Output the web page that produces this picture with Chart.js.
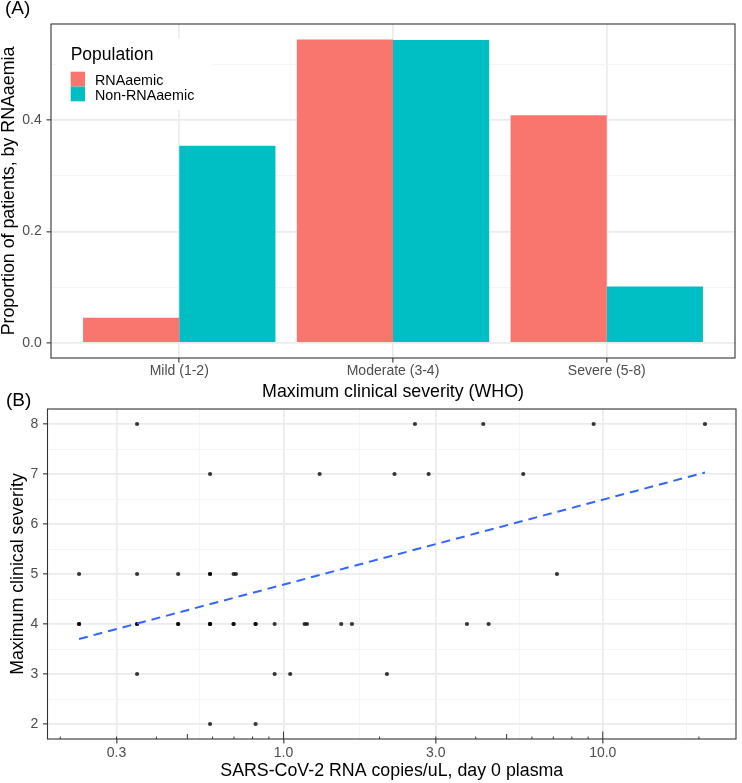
<!DOCTYPE html>
<html>
<head>
<meta charset="utf-8">
<script src="https://cdn.jsdelivr.net/npm/chart.js@4.4.1/dist/chart.umd.min.js"></script>
<style>
html,body{margin:0;padding:0;background:#fff;}
#wrap{position:relative;width:742px;height:783px;overflow:hidden;background:#fff;font-family:'Liberation Sans',Arial,sans-serif;}
#cA{position:absolute;left:0;top:0;}
#cB{position:absolute;left:0;top:400px;}
.tag{position:absolute;font-size:19px;line-height:19px;color:#000;white-space:nowrap;}
</style>
</head>
<body>
<div id="wrap">
<canvas id="cA" width="742" height="402"></canvas>
<canvas id="cB" width="742" height="383"></canvas>
<div class="tag" style="left:5px;top:-2px">(A)</div>
<div class="tag" style="left:6px;top:390px">(B)</div>
</div>
<script>
// ---------- Panel A data ----------
const categories = ['Mild (1-2)', 'Moderate (3-4)', 'Severe (5-8)'];
const seriesNames = ['RNAaemic', 'Non-RNAaemic'];
const legendTitle = 'Population';
const rnaaemic = [0.045, 0.545, 0.409];
const nonRnaaemic = [0.354, 0.544, 0.101];
const yTicksA = [0, 0.2, 0.4];
const yTickLabelsA = ['0.0', '0.2', '0.4'];
const yMinorA = [0.1, 0.3, 0.5];

// ---------- Panel B data ----------
const rnaCopies = [
  0.348, 2.581, 4.224, 9.364, 20.90,
  0.589, 1.298, 2.227, 2.849, 5.636,
  0.229, 0.348, 0.468, 0.589, 0.589, 0.698, 0.710, 7.188,
  0.229, 0.229, 0.348, 0.348, 0.468, 0.468, 0.589, 0.589, 0.589, 0.698, 0.698, 0.818, 0.818, 0.9385, 1.165, 1.185, 1.517, 1.639, 3.755, 4.391,
  0.348, 0.9385, 1.050, 2.109,
  0.589, 0.818
];
const severity = [
  8, 8, 8, 8, 8,
  7, 7, 7, 7, 7,
  5, 5, 5, 5, 5, 5, 5, 5,
  4, 4, 4, 4, 4, 4, 4, 4, 4, 4, 4, 4, 4, 4, 4, 4, 4, 4, 4, 4,
  3, 3, 3, 3,
  2, 2
];
const fitX = [0.229, 20.90];
const fitY = [3.70, 7.03];
const xTicksB = [0.3, 1, 3, 10];
const xTickLabelsB = ['0.3', '1.0', '3.0', '10.0'];
const xMinorB = [0.5477, 1.732, 5.477, 18.26];
const yTicksB = [2, 3, 4, 5, 6, 7, 8];
const yTickLabelsB = ['2', '3', '4', '5', '6', '7', '8'];
const yMinorB = [2.5, 3.5, 4.5, 5.5, 6.5, 7.5];
const logTicksShort = [0.2, 0.3, 0.4, 0.6, 0.7, 0.8, 0.9, 2, 3, 4, 6, 7, 8, 9, 20];
const logTicksMid = [0.5, 5];
const logTicksLong = [1, 10];

// ---------- styling ----------
const FONT = "'Liberation Sans', Arial, sans-serif";
const GRID_MAJOR = '#EBEBEB';
const GRID_MINOR = '#F2F2F2';
const TICK = '#333333';
const TICK_LABEL = '#4D4D4D';

function idxIn(arr, v) { return arr.findIndex(a => Math.abs(a - v) < 1e-6); }
function gridColor(majors) { return c => (c.tick && idxIn(majors, c.tick.value) >= 0) ? GRID_MAJOR : GRID_MINOR; }
function gridWidth(majors) { return c => (c.tick && idxIn(majors, c.tick.value) >= 0) ? 1.7 : 0.8; }
function tickColor(majors) { return c => (c.tick && idxIn(majors, c.tick.value) >= 0) ? TICK : 'rgba(0,0,0,0)'; }
function labelFor(majors, labels) { return v => { const i = idxIn(majors, v); return i >= 0 ? labels[i] : ''; }; }

const panelBorder = {
  id: 'panelBorder',
  afterDatasetsDraw(chart) {
    const { ctx, chartArea: a } = chart;
    ctx.save();
    ctx.strokeStyle = '#333333';
    ctx.lineWidth = 1.1;
    ctx.strokeRect(a.left, a.top, a.right - a.left, a.bottom - a.top);
    ctx.restore();
  }
};

const panelLegend = {
  id: 'panelLegend',
  beforeDatasetsDraw(chart) {
    const { ctx, chartArea: a } = chart;
    const x0 = a.left, y0 = a.top;
    ctx.save();
    ctx.fillStyle = '#ffffff';
    ctx.fillRect(x0 + 5, y0 + 14, 157, 72);
    ctx.textBaseline = 'alphabetic';
    ctx.textAlign = 'left';
    ctx.fillStyle = '#000000';
    ctx.font = '17.5px ' + FONT;
    ctx.fillText(legendTitle, x0 + 19.7, y0 + 36);
    chart.data.datasets.forEach((ds, i) => {
      ctx.fillStyle = ds.backgroundColor;
      ctx.fillRect(x0 + 19.7, y0 + 47.7 + i * 14.8, 14.3, 14.8);
      ctx.fillStyle = '#000000';
      ctx.font = '14.3px ' + FONT;
      ctx.fillText(ds.label, x0 + 44, y0 + 61 + i * 15);
    });
    ctx.restore();
  }
};

const logTicksPlugin = {
  id: 'logTicks',
  afterDatasetsDraw(chart) {
    const { ctx, chartArea: a } = chart;
    const xs = chart.scales.x;
    ctx.save();
    ctx.strokeStyle = '#333333';
    ctx.lineWidth = 1;
    ctx.beginPath();
    [[logTicksShort, 2.5], [logTicksMid, 5], [logTicksLong, 7.5]].forEach(([arr, len]) => {
      arr.forEach(v => {
        const px = xs.getPixelForValue(v);
        if (px < a.left || px > a.right) return;
        ctx.moveTo(px, a.bottom);
        ctx.lineTo(px, a.bottom - len);
      });
    });
    ctx.stroke();
    ctx.restore();
  }
};

// ---------- Chart A ----------
new Chart(document.getElementById('cA'), {
  type: 'bar',
  data: {
    datasets: [
      { label: seriesNames[0], data: categories.map((c, i) => ({ x: i + 1, y: rnaaemic[i] })),
        backgroundColor: '#F8766D', borderWidth: 0, categoryPercentage: 0.9, barPercentage: 1 },
      { label: seriesNames[1], data: categories.map((c, i) => ({ x: i + 1, y: nonRnaaemic[i] })),
        backgroundColor: '#00BFC4', borderWidth: 0, categoryPercentage: 0.9, barPercentage: 1 }
    ]
  },
  options: {
    responsive: false, animation: false, devicePixelRatio: 1,
    layout: { padding: { left: 0, top: 24, right: 7, bottom: 0 } },
    plugins: { legend: { display: false }, tooltip: { enabled: false } },
    scales: {
      x: {
        type: 'linear', min: 0.4, max: 3.6, offset: false, bounds: 'data',
        afterBuildTicks: s => { s.ticks = categories.map((c, i) => ({ value: i + 1 })); },
        afterFit: s => { s.height = 44; },
        ticks: { autoSkip: false, maxRotation: 0, minRotation: 0, padding: 2, color: TICK_LABEL,
          font: { family: FONT, size: 14, lineHeight: 1 },
          callback: v => categories[Math.round(v) - 1] || '' },
        grid: { offset: false, color: GRID_MAJOR, lineWidth: 1.7, tickLength: 4.5, tickColor: TICK, tickWidth: 1.1 },
        border: { display: false },
        title: { display: true, text: 'Maximum clinical severity (WHO)', color: '#000',
          font: { family: FONT, size: 17.8, lineHeight: 1 }, padding: { top: 0, bottom: 0.75 } }
      },
      y: {
        type: 'linear', min: -0.0273, max: 0.5727, bounds: 'data',
        afterBuildTicks: s => { s.ticks = [...yTicksA, ...yMinorA].sort((a, b) => a - b).map(v => ({ value: v })); },
        afterFit: s => { s.width = 51; },
        ticks: { autoSkip: false, padding: 4.8, color: TICK_LABEL,
          font: { family: FONT, size: 14, lineHeight: 0.4 },
          callback: labelFor(yTicksA, yTickLabelsA) },
        grid: { color: gridColor(yTicksA), lineWidth: gridWidth(yTicksA), tickLength: 4.5,
          tickColor: tickColor(yTicksA), tickWidth: 1.1 },
        border: { display: false },
        title: { display: true, text: 'Proportion of patients, by RNAaemia', color: '#000',
          font: { family: FONT, size: 17.8, lineHeight: 1 }, padding: { top: 0, bottom: 0 } }
      }
    }
  },
  plugins: [panelLegend, panelBorder]
});

// ---------- Chart B ----------
new Chart(document.getElementById('cB'), {
  type: 'scatter',
  data: {
    datasets: [
      { type: 'line', label: 'fit', data: fitX.map((x, i) => ({ x: x, y: fitY[i] })),
        borderColor: '#3366FF', borderWidth: 2, borderDash: [9, 6], pointRadius: 0,
        fill: false, tension: 0, order: 0 },
      { type: 'scatter', label: 'patients', data: rnaCopies.map((x, i) => ({ x: x, y: severity[i] })),
        backgroundColor: 'rgba(0,0,0,0.78)', borderWidth: 0, pointRadius: 2.1, pointHoverRadius: 2.1, order: 1 }
    ]
  },
  options: {
    responsive: false, animation: false, devicePixelRatio: 1,
    layout: { padding: { left: 0, top: 9, right: 6, bottom: 0 } },
    plugins: { legend: { display: false }, tooltip: { enabled: false } },
    scales: {
      x: {
        type: 'logarithmic', min: 0.1824, max: 26.14, bounds: 'data',
        afterBuildTicks: s => { s.ticks = [...xTicksB, ...xMinorB].sort((a, b) => a - b).map(v => ({ value: v })); },
        afterFit: s => { s.height = 44; },
        ticks: { autoSkip: false, maxRotation: 0, minRotation: 0, padding: 2.5, color: TICK_LABEL,
          font: { family: FONT, size: 14, lineHeight: 1 },
          callback: labelFor(xTicksB, xTickLabelsB) },
        grid: { color: gridColor(xTicksB), lineWidth: gridWidth(xTicksB), tickLength: 4.5,
          tickColor: tickColor(xTicksB), tickWidth: 1.1 },
        border: { display: false },
        title: { display: true, text: 'SARS-CoV-2 RNA copies/uL, day 0 plasma', color: '#000',
          font: { family: FONT, size: 17.8, lineHeight: 1 }, padding: { top: 0, bottom: 2.65 } }
      },
      y: {
        type: 'linear', min: 1.7, max: 8.3, bounds: 'data',
        afterBuildTicks: s => { s.ticks = [...yTicksB, ...yMinorB].sort((a, b) => a - b).map(v => ({ value: v })); },
        afterFit: s => { s.width = 47.5; },
        ticks: { autoSkip: false, padding: 4.8, color: TICK_LABEL,
          font: { family: FONT, size: 14, lineHeight: 0.4 },
          callback: labelFor(yTicksB, yTickLabelsB) },
        grid: { color: gridColor(yTicksB), lineWidth: gridWidth(yTicksB), tickLength: 4.5,
          tickColor: tickColor(yTicksB), tickWidth: 1.1 },
        border: { display: false },
        title: { display: true, text: 'Maximum clinical severity', color: '#000',
          font: { family: FONT, size: 17.8, lineHeight: 1 }, padding: { top: 8.75, bottom: 0 } }
      }
    }
  },
  plugins: [logTicksPlugin, panelBorder]
});
</script>
</body>
</html>
